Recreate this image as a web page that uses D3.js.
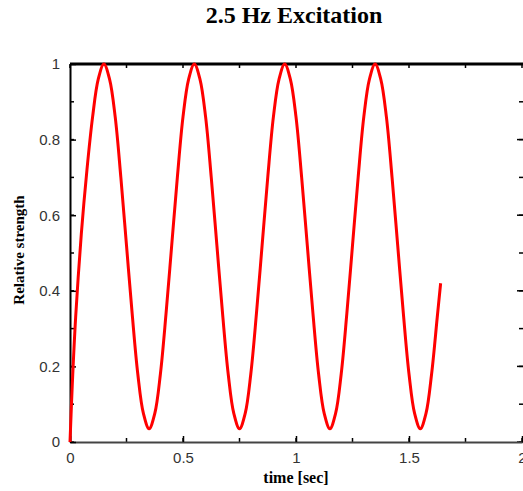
<!DOCTYPE html>
<meta charset="utf-8">
<script src="https://d3js.org/d3.v7.min.js"></script>
<style>
body { margin: 0; background: #fff; }
.tick text { font-family: "Liberation Sans", Arial, sans-serif; font-size: 15px; fill: #333; }
.lbl { font-family: "Liberation Serif", "Times New Roman", serif; font-weight: bold; }
</style>
<body></body>
<script>
// values
var times  = [0, 0.01, 0.025, 0.05, 0.075, 0.1, 0.125, 0.15, 0.175, 0.2, 0.225, 0.25, 0.275, 0.3, 0.325, 0.35,
              0.375, 0.4, 0.425, 0.45, 0.475, 0.5, 0.525, 0.55, 0.575, 0.6, 0.625, 0.65, 0.675, 0.7, 0.725, 0.75,
              0.775, 0.8, 0.825, 0.85, 0.875, 0.9, 0.925, 0.95, 0.975, 1.0, 1.025, 1.05, 1.075, 1.1, 1.125, 1.15,
              1.175, 1.2, 1.225, 1.25, 1.275, 1.3, 1.325, 1.35, 1.375, 1.4, 1.425, 1.45, 1.475, 1.5, 1.525, 1.55,
              1.575, 1.6, 1.625, 1.64];
var strength = [0, 0.15, 0.33, 0.55, 0.72, 0.86, 0.96, 1.0, 0.96, 0.86, 0.70, 0.52, 0.34, 0.18, 0.075, 0.035,
              0.075, 0.18, 0.34, 0.52, 0.70, 0.86, 0.96, 1.0, 0.96, 0.86, 0.70, 0.52, 0.34, 0.18, 0.075, 0.035,
              0.075, 0.18, 0.34, 0.52, 0.70, 0.86, 0.96, 1.0, 0.96, 0.86, 0.70, 0.52, 0.34, 0.18, 0.075, 0.035,
              0.075, 0.18, 0.34, 0.52, 0.70, 0.86, 0.96, 1.0, 0.96, 0.86, 0.70, 0.52, 0.34, 0.18, 0.075, 0.035,
              0.075, 0.18, 0.33, 0.42];
var xTicks = [0, 0.5, 1, 1.5, 2];
var yTicks = [0, 0.2, 0.4, 0.6, 0.8, 1];

var W = 523, H = 491;
var margin = {left: 70, right: 522, top: 64, bottom: 442};

var svg = d3.select("body").append("svg").attr("width", W).attr("height", H);

var x = d3.scaleLinear().domain([0, 2]).range([margin.left, margin.right]);
var y = d3.scaleLinear().domain([0, 1]).range([margin.bottom, margin.top]);

// minor ticks
var xMinor = d3.range(0, 2.01, 0.25), yMinor = d3.range(0, 1.01, 0.1);
svg.selectAll(".xm").data(xMinor).enter().append("line")
  .attr("x1", d => x(d)).attr("x2", d => x(d)).attr("y1", margin.bottom).attr("y2", margin.bottom - 4)
  .attr("stroke", "#000").attr("stroke-width", 1.5);
svg.selectAll(".xmt").data(xMinor).enter().append("line")
  .attr("x1", d => x(d)).attr("x2", d => x(d)).attr("y1", margin.top).attr("y2", margin.top + 4)
  .attr("stroke", "#000").attr("stroke-width", 1.5);
svg.selectAll(".ym").data(yMinor).enter().append("line")
  .attr("x1", margin.left).attr("x2", margin.left + 4).attr("y1", d => y(d)).attr("y2", d => y(d))
  .attr("stroke", "#000").attr("stroke-width", 1.5);
svg.selectAll(".ymr").data(yMinor).enter().append("line")
  .attr("x1", margin.right + 1).attr("x2", margin.right - 3).attr("y1", d => y(d)).attr("y2", d => y(d))
  .attr("stroke", "#000").attr("stroke-width", 1.5);
svg.selectAll(".yMr").data(yTicks).enter().append("line")
  .attr("x1", margin.right + 1).attr("x2", margin.right - 5).attr("y1", d => y(d)).attr("y2", d => y(d))
  .attr("stroke", "#000").attr("stroke-width", 1.5);

// axes
var xAxis = d3.axisBottom(x).tickValues(xTicks).tickFormat(d3.format("")).tickSizeInner(-6).tickSizeOuter(0).tickPadding(10);
var yAxis = d3.axisLeft(y).tickValues(yTicks).tickFormat(d3.format("")).tickSizeInner(-6).tickSizeOuter(0).tickPadding(10);

var gx = svg.append("g").attr("transform", "translate(0," + margin.bottom + ")").call(xAxis);
gx.select(".domain").attr("stroke", "#444").attr("stroke-width", 2);
gx.selectAll(".tick line").attr("stroke", "#000").attr("stroke-width", 1.5);

var gy = svg.append("g").attr("transform", "translate(" + margin.left + ",0)").call(yAxis);
gy.select(".domain").attr("stroke", "#000").attr("stroke-width", 2);
gy.selectAll(".tick line").attr("stroke", "#000").attr("stroke-width", 1.5);

// top frame
svg.append("line").attr("x1", margin.left).attr("x2", W).attr("y1", margin.top).attr("y2", margin.top)
  .attr("stroke", "#000").attr("stroke-width", 3);

// curve
var pts = times.map((t, i) => [t, strength[i]]);
svg.append("path").datum(pts)
  .attr("fill", "none").attr("stroke", "#ff0000").attr("stroke-width", 3)
  .attr("d", d3.line().x(d => x(d[0])).y(d => y(d[1])).curve(d3.curveCatmullRom));

// labels
svg.append("text").attr("class", "lbl").attr("x", 294).attr("y", 23)
  .attr("text-anchor", "middle").attr("font-size", 24).text("2.5 Hz Excitation");
svg.append("text").attr("class", "lbl").attr("x", 296).attr("y", 483)
  .attr("text-anchor", "middle").attr("font-size", 16).text("time [sec]");
svg.append("text").attr("class", "lbl").attr("transform", "translate(24,250) rotate(-90)")
  .attr("text-anchor", "middle").attr("font-size", 15).text("Relative strength");
</script>
